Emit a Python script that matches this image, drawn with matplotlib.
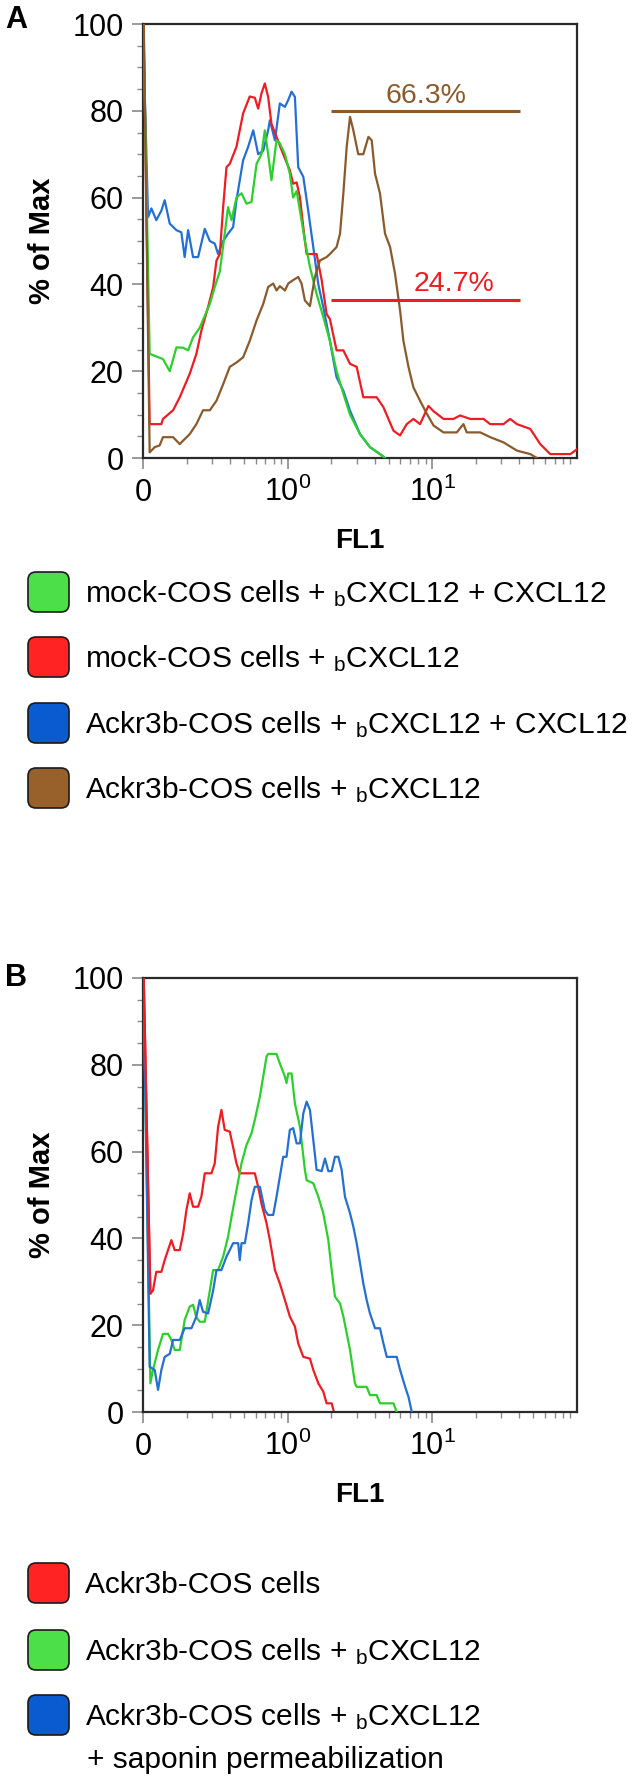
import numpy as np
import matplotlib
matplotlib.use("Agg")
import matplotlib.pyplot as plt
from matplotlib.patches import FancyBboxPatch
from matplotlib.transforms import IdentityTransform
from matplotlib.ticker import FixedLocator, NullFormatter

plt.rcParams['font.family'] = ['Liberation Sans', 'DejaVu Sans']
plt.rcParams['mathtext.fontset'] = 'custom'
plt.rcParams['mathtext.rm'] = 'Liberation Sans'
plt.rcParams['mathtext.it'] = 'Liberation Sans:italic'
plt.rcParams['mathtext.bf'] = 'Liberation Sans:bold'

# ---------------- data (x = log10 FL1, y = % of Max) ----------------
a_red_log = [-0.995, -0.954, -0.873, -0.862, -0.792, -0.746, -0.677, -0.631, -0.596, -0.55, -0.515, -0.492,
             -0.469, -0.446, -0.423, -0.40, -0.354, -0.308, -0.262, -0.227, -0.204, -0.181, -0.158, -0.135,
             -0.112, -0.077, -0.031, 0.015, 0.038, 0.062, 0.085, 0.108, 0.131, 0.20, 0.235, 0.269, 0.292,
             0.338, 0.385, 0.431, 0.477, 0.523, 0.615, 0.662, 0.731, 0.777, 0.823, 0.869, 0.915, 0.973,
             1.008, 1.077, 1.146, 1.192, 1.262, 1.354, 1.40, 1.492, 1.538, 1.585, 1.677, 1.746, 1.815,
             1.954, 2.0]
a_red_pct = [100, 7.8, 7.8, 9, 11, 14, 19.4, 24, 29.4, 34.8, 39.4, 45.5,
             47, 57.8, 67, 67.8, 71.7, 79.4, 83.3, 83, 80.5, 84, 86.3, 83.2,
             77, 74, 70, 66.3, 63.2, 63.5, 60, 53.2, 47, 47, 41, 33.2, 32,
             24.8, 24.8, 21.7, 21, 14, 14, 11.7, 6.3, 5.2, 7.8, 9, 7.8, 12,
             10.8, 9, 9, 9.8, 9, 9, 7.8, 7.8, 9, 7.8, 6.7, 3.2, 0.9,
             0.9, 2]

a_green_log = [-0.995, -0.954, -0.862, -0.815, -0.769, -0.723, -0.688, -0.654, -0.608, -0.538, -0.504,
               -0.469, -0.435, -0.412, -0.388, -0.354, -0.319, -0.285, -0.25, -0.215, -0.181, -0.158,
               -0.135, -0.112, -0.077, -0.054, -0.019, 0.015, 0.038, 0.062, 0.085, 0.119, 0.154, 0.20,
               0.246, 0.292, 0.338, 0.385, 0.431, 0.50, 0.569, 0.638, 0.673]
a_green_pct = [95.5, 24, 22.8, 20, 25.5, 25.4, 24.8, 27.8, 30, 35.5, 39.4,
               43, 51.7, 57.8, 54.8, 60, 61, 58.6, 59, 67.8, 70, 75.5,
               70, 64, 73.2, 72.5, 70, 65.5, 60, 61.5, 57, 50, 44, 37.8,
               32.5, 27, 20, 14.8, 10, 5.5, 2.5, 0.9, 0]

a_blue_log = [-0.995, -0.965, -0.942, -0.908, -0.873, -0.85, -0.815, -0.769, -0.735, -0.712, -0.688,
              -0.654, -0.619, -0.573, -0.538, -0.504, -0.481, -0.446, -0.412, -0.377, -0.354, -0.308,
              -0.273, -0.238, -0.204, -0.169, -0.135, -0.123, -0.088, -0.054, -0.019, 0.004, 0.027,
              0.05, 0.073, 0.108, 0.142, 0.177, 0.212, 0.246, 0.292, 0.338, 0.385, 0.431, 0.50, 0.569,
              0.638, 0.673]
a_blue_pct = [93, 55.5, 57.5, 54.8, 57, 59.4, 54, 52.5, 52, 46.3, 52.5,
              46.3, 46.3, 52.8, 50, 49.4, 47, 50, 51.7, 53.2, 59.4, 68.6,
              71.7, 75.5, 70, 70.8, 75.5, 77.8, 73.2, 81.7, 80.9, 82.5, 84.4,
              83.2, 67, 64.8, 57, 48.6, 40, 34.8, 27, 18.6, 15.5, 10.9, 5.5, 2.5,
              0.9, 0]

a_brown_log = [-0.995, -0.954, -0.919, -0.885, -0.862, -0.792, -0.746, -0.723, -0.677, -0.631, -0.585,
               -0.538, -0.492, -0.446, -0.40, -0.354, -0.308, -0.262, -0.215, -0.169, -0.135, -0.10,
               -0.077, -0.054, -0.019, 0.004, 0.038, 0.073, 0.096, 0.119, 0.154, 0.188, 0.223, 0.269,
               0.292, 0.338, 0.362, 0.385, 0.408, 0.431, 0.454, 0.488, 0.523, 0.558, 0.581, 0.604,
               0.638, 0.673, 0.708, 0.742, 0.777, 0.80, 0.835, 0.869, 0.915, 0.962, 1.008, 1.077,
               1.169, 1.215, 1.238, 1.331, 1.40, 1.492, 1.585, 1.677, 1.723]
a_brown_pct = [100, 1.3, 2.5, 2.9, 4.8, 4.8, 3.2, 4, 5.5, 7.8, 11,
               11, 13.2, 17, 21, 22, 23.2, 27, 31.7, 35.5, 39.4, 40.2,
               38.6, 39.6, 38.6, 40.2, 41, 41.7, 40.2, 36.3, 35, 41.7, 45.5, 46.3,
               47, 48.6, 51.7, 61, 71.7, 78.6, 75.5, 70, 70, 74, 73.2, 65.5,
               61, 51.7, 48.6, 42.5, 34, 27, 21, 16.3, 13.2, 10.2, 7.5, 5.9,
               5.9, 7.8, 5.9, 5.9, 4.8, 3.6, 1.7, 0.9, 0]

b_red_log = [-0.995, -0.949, -0.931, -0.908, -0.873, -0.85, -0.827, -0.804, -0.781, -0.746, -0.723, -0.70,
             -0.677, -0.654, -0.619, -0.596, -0.573, -0.527, -0.504, -0.481, -0.458, -0.435, -0.40,
             -0.377, -0.354, -0.331, -0.227, -0.204, -0.181, -0.146, -0.123, -0.088, -0.054, -0.019,
             0.015, 0.05, 0.073, 0.108, 0.154, 0.177, 0.212, 0.246, 0.269, 0.304, 0.32]
b_red_pct = [100, 27.3, 28, 32.3, 32.3, 35, 37.3, 39.6, 37.3, 37.3, 41, 46.5,
             50.4, 47.3, 47.3, 49.7, 55, 55, 57.3, 65.7, 69.6, 65, 64.6,
             61, 57.3, 55, 55, 51.9, 48, 43.5, 39.6, 32.7, 29.6, 25.8,
             22, 19.7, 15.8, 12.7, 12.3, 9.7, 6.6, 4.7, 2, 2, 0]

b_green_log = [-0.995, -0.949, -0.931, -0.896, -0.862, -0.827, -0.804, -0.781, -0.746, -0.712, -0.677,
               -0.654, -0.631, -0.608, -0.573, -0.538, -0.515, -0.481, -0.446, -0.412, -0.388, -0.354,
               -0.319, -0.285, -0.25, -0.227, -0.192, -0.169, -0.146, -0.135, -0.077, -0.054, -0.019,
               -0.008, 0.004, 0.027, 0.05, 0.085, 0.119, 0.131, 0.177, 0.212, 0.246, 0.281, 0.304,
               0.327, 0.362, 0.385, 0.431, 0.465, 0.477, 0.546, 0.569, 0.615, 0.638, 0.731, 0.754]
b_green_pct = [95, 6.6, 9.7, 14.3, 18, 18, 16.6, 14.3, 14.3, 21.2, 24.3,
               24.7, 21.8, 20.8, 20.8, 28, 32.7, 32.7, 35.8, 40.4, 45, 51.1,
               57.3, 61.5, 64.2, 67.3, 72.7, 77.3, 81.9, 82.5, 82.5, 80.3, 77.3,
               75.8, 78, 78, 71.1, 65.7, 55.8, 53.4, 52.7, 49.6, 45.8, 39.6, 32.7,
               26.6, 25, 22, 14.3, 6.6, 5.8, 5.8, 3.9, 3.9, 2, 2, 0]

b_blue_log = [-0.995, -0.954, -0.919, -0.896, -0.873, -0.85, -0.815, -0.792, -0.746, -0.712, -0.665,
              -0.631, -0.608, -0.585, -0.55, -0.515, -0.492, -0.458, -0.423, -0.377, -0.342, -0.331,
              -0.319, -0.296, -0.273, -0.25, -0.227, -0.192, -0.158, -0.135, -0.10, -0.077, -0.054,
              -0.031, -0.008, 0.015, 0.038, 0.062, 0.085, 0.108, 0.131, 0.154, 0.177, 0.20, 0.235,
              0.258, 0.281, 0.304, 0.327, 0.35, 0.373, 0.396, 0.431, 0.454, 0.477, 0.50, 0.523, 0.546,
              0.569, 0.604, 0.638, 0.662, 0.685, 0.754, 0.777, 0.812, 0.835, 0.858]
b_blue_pct = [95.7, 10.4, 9.7, 5.1, 9.7, 12.7, 13.4, 16.6, 16.6, 19.3, 19.3,
              22, 25.8, 23.1, 22.7, 28, 32.7, 32.7, 35.8, 38.9, 38.9, 35,
              38.9, 38.9, 43.5, 48.8, 51.9, 51.9, 46.5, 45.4, 45.4, 49.6, 54.2,
              58.8, 58.8, 65, 65.4, 61.9, 61.9, 68.8, 71.5, 69.6, 62.7, 55.8, 55.5,
              58.4, 55.5, 55.5, 58.8, 58.8, 55.8, 49.6, 45.8, 42.7, 38.9, 34.3, 29.6, 25.8,
              22.7, 19.3, 19.3, 15.8, 12.7, 12.7, 9.7, 5.8, 3.5, 0]

# gates (panel A)
gate_labels = ["66.3%", "24.7%"]
gate_levels = [80.0, 36.5]
gate_start = 2.0
gate_end = 40.6
gate_label_x = [9.0, 14.1]
gate_label_y = [81.7, 38.5]

legend_a = ["mock-COS cells + ${}_\\mathrm{b}$CXCL12 + CXCL12",
            "mock-COS cells + ${}_\\mathrm{b}$CXCL12",
            "Ackr3b-COS cells + ${}_\\mathrm{b}$CXCL12 + CXCL12",
            "Ackr3b-COS cells + ${}_\\mathrm{b}$CXCL12"]
legend_b = ["Ackr3b-COS cells",
            "Ackr3b-COS cells + ${}_\\mathrm{b}$CXCL12",
            "Ackr3b-COS cells + ${}_\\mathrm{b}$CXCL12\n+ saponin permeabilization"]

x_tick_vals = [0.1, 1, 10]
x_tick_labels = ["0", "$10^{0}$", "$10^{1}$"]
y_tick_vals = [0, 20, 40, 60, 80, 100]

# ---------------- styles ----------------
C_RED = '#ee1c23'
C_GREEN = '#2ccf2c'
C_BLUE = '#2470d2'
C_BROWN = '#8a5a2c'
BOX_GREEN = '#4ddf4a'
BOX_RED = '#ff2323'
BOX_BLUE = '#0a5bd0'
BOX_BROWN = '#98602b'
TICK_FS = 22
LEG_FS = 21.5

W, H = 632, 1780
fig = plt.figure(figsize=(W / 100, H / 100), dpi=100)


def add_axes_px(left, top, right, bottom):
    return fig.add_axes([left / W, 1 - bottom / H, (right - left) / W, (bottom - top) / H])


def style_axes(ax):
    ax.set_xscale('log')
    ax.set_xlim(0.1, 100)
    ax.set_ylim(0, 100)
    for s in ax.spines.values():
        s.set_linewidth(1.6)
        s.set_color('#2a2a2a')
    ax.xaxis.set_major_locator(FixedLocator(x_tick_vals))
    minors = [m * d for d in (0.1, 1, 10) for m in range(2, 10)]
    ax.xaxis.set_minor_locator(FixedLocator(minors))
    ax.xaxis.set_minor_formatter(NullFormatter())
    ax.set_xticklabels(x_tick_labels)
    ax.yaxis.set_major_locator(FixedLocator(y_tick_vals))
    ax.yaxis.set_minor_locator(FixedLocator(list(range(5, 100, 5))))
    ax.tick_params(axis='both', which='major', direction='out', length=8, width=1.2,
                   color='#8a8a8a', labelsize=TICK_FS)
    ax.tick_params(axis='both', which='minor', direction='out', length=4, width=1.0,
                   color='#8a8a8a')
    ax.tick_params(axis='y', which='major', pad=6)
    ax.tick_params(axis='x', which='major', pad=23)
    for lab in ax.get_xticklabels():
        lab.set_verticalalignment('baseline')
    ax.set_xlabel('FL1', fontsize=20, fontweight='bold', labelpad=14)
    ax.set_ylabel('% of Max', fontsize=21, fontweight='bold', labelpad=12)
    ax.patch.set_alpha(0)


def curve(ax, logs, pct, color, z):
    ax.plot(10 ** np.array(logs), pct, color=color, lw=1.6, zorder=z, solid_joinstyle='round')


# ---------------- panel A ----------------
axA = add_axes_px(143, 24, 577, 458)
style_axes(axA)
curve(axA, a_blue_log, a_blue_pct, C_BLUE, 2)
curve(axA, a_red_log, a_red_pct, C_RED, 3)
curve(axA, a_green_log, a_green_pct, C_GREEN, 4)
curve(axA, a_brown_log, a_brown_pct, C_BROWN, 5)
gate_colors = [C_BROWN, C_RED]
for lab, lvl, lx, ly, c in zip(gate_labels, gate_levels, gate_label_x, gate_label_y, gate_colors):
    axA.hlines(lvl, gate_start, gate_end, color=c, lw=2.2, zorder=6)
    axA.text(lx, ly, lab, color=c, fontsize=20.5, ha='center', va='baseline', zorder=6)

# ---------------- panel B ----------------
axB = add_axes_px(143, 978, 577, 1412)
style_axes(axB)
curve(axB, b_red_log, b_red_pct, C_RED, 2)
curve(axB, b_green_log, b_green_pct, C_GREEN, 3)
curve(axB, b_blue_log, b_blue_pct, C_BLUE, 4)
# red spike on top at the left edge
axB.plot(10 ** np.array(b_red_log[:2]), b_red_pct[:2], color=C_RED, lw=1.6, zorder=5)

# panel letters
fig.text(5 / W, 1 - 20 / H, 'A', fontsize=22, fontweight='bold', va='center', ha='left')
fig.text(5 / W, 1 - 978 / H, 'B', fontsize=22, fontweight='bold', va='center', ha='left')


# ---------------- legends ----------------
def legend_item(cy, color, label):
    box = FancyBboxPatch((28, H - cy - 20), 41, 40, boxstyle='round,pad=0,rounding_size=8',
                         transform=IdentityTransform(), facecolor=color, edgecolor='#1a1a1a',
                         linewidth=1.2)
    fig.patches.append(box)
    fig.text(85 / W, 1 - (cy + 10) / H, label, fontsize=LEG_FS, ha='left', va='baseline')


for cy, col, lab in zip([592, 657, 723, 788], [BOX_GREEN, BOX_RED, BOX_BLUE, BOX_BROWN], legend_a):
    legend_item(cy, col, lab)

for cy, col, lab in zip([1583, 1650, 1715], [BOX_RED, BOX_GREEN, BOX_BLUE], legend_b):
    if '\n' in lab:
        l1, l2 = lab.split('\n')
        legend_item(cy, col, l1)
        fig.text(87 / W, 1 - (cy + 53) / H, l2, fontsize=LEG_FS, ha='left', va='baseline')
    else:
        legend_item(cy, col, lab)

fig.savefig('out.png', dpi=100)
